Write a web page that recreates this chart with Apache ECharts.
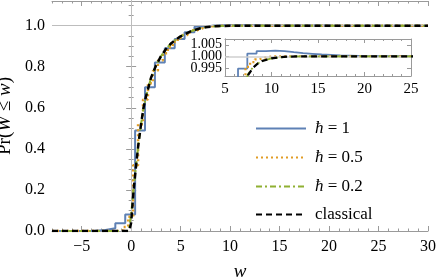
<!DOCTYPE html>
<html><head><meta charset="utf-8">
<script src="https://cdn.jsdelivr.net/npm/echarts@6/dist/echarts.min.js"></script>
<style>html,body{margin:0;padding:0;background:#fff}#c{width:436px;height:280px}</style>
</head><body><div id="c"></div>
<script>
// ---- data ----
const hbar1X = [-8, -4.6, -3.6, -2.6, -1.6, -0.6, 0.4, 1.4, 2.4, 3.4, 4.4, 5.4, 6.4, 7.4, 8.4, 9.4, 10.4, 11.4, 12.4, 13.4, 14.4, 15.4, 16.4, 17.4, 18.4, 19.4, 20.4, 30];
const hbar1Y = [0, 0.001, 0.005, 0.013, 0.038, 0.08, 0.49, 0.70, 0.82, 0.89, 0.935, 0.968, 0.9947, 1.0012, 1.0023, 1.0025, 1.0023, 1.0018, 1.0014, 1.0011, 1.0008, 1.0006, 1.0004, 1.0003, 1.0002, 1.0001, 1.0, 1.0];
const hbar05X = [-8, -1.3, -0.8, -0.3, 0.2, 0.7, 1.2, 1.7, 2.2, 2.7, 3.2, 3.7, 4.2, 4.7, 5.2, 5.7, 6.2, 6.7, 7.2, 7.7, 8.2, 8.7, 9.2, 9.7, 10.2, 30];
const hbar05Y = [0, 0.004, 0.02, 0.07, 0.32, 0.52, 0.64, 0.72, 0.78, 0.83, 0.865, 0.895, 0.92, 0.94, 0.955, 0.968, 0.978, 0.987, 0.9955, 0.9975, 0.9987, 0.9994, 0.9998, 1.0, 1.0, 1.0];
const hbar02X = [-8, -0.4, -0.2, 0, 0.25, 0.5, 0.75, 1, 1.25, 1.5, 2, 2.5, 3, 3.5, 4, 4.5, 5, 5.5, 6, 6.5, 7, 7.5, 8, 8.5, 9, 9.5, 10, 11, 12, 13, 30];
const hbar02Y = [0, 0, 0.02, 0.08, 0.21, 0.32, 0.43, 0.52, 0.6, 0.655, 0.745, 0.805, 0.85, 0.885, 0.912, 0.932, 0.948, 0.961, 0.972, 0.980, 0.987, 0.9925, 0.9952, 0.9969, 0.998, 0.9986, 0.9991, 0.9996, 0.9999, 1.0, 1.0];
const classicalX = [-8, -0.2, 0, 0.25, 0.5, 0.75, 1, 1.25, 1.5, 2, 2.5, 3, 3.5, 4, 4.5, 5, 5.5, 6, 6.5, 7, 7.5, 8, 8.5, 9, 9.5, 10, 11, 12, 13, 30];
const classicalY = [0, 0, 0.04, 0.2, 0.32, 0.43, 0.52, 0.6, 0.655, 0.745, 0.805, 0.85, 0.885, 0.912, 0.932, 0.948, 0.96, 0.972, 0.980, 0.987, 0.992, 0.995, 0.9968, 0.998, 0.9986, 0.9991, 0.9997, 0.9999, 1.0, 1.0];
const xMajorTicks = [-5, 0, 5, 10, 15, 20, 25, 30];
const xMinorTicks = [-8,-7,-6,-5,-4,-3,-2,-1,0,1,2,3,4,5,6,7,8,9,10,11,12,13,14,15,16,17,18,19,20,21,22,23,24,25,26,27,28,29,30];
const yMajorTicks = [0, 0.2, 0.4, 0.6, 0.8, 1.0];
const insetYTicks = [0.995, 1.000, 1.005];
const seriesNames = ['ħ = 1', 'ħ = 0.5', 'ħ = 0.2', 'classical'];

// ---- chart ----
const zip = (xs, ys) => xs.map((x, i) => [x, ys[i]]);
const FONT = '"Liberation Serif", "Times New Roman", serif';
const frame = '#9a9a9a';
const colors = ['#5E81B5', '#E19C24', '#8FB032', '#000000'];
const styles = [
  {width: 2, type: 'solid'},
  {width: 2.5, type: [2, 3]},
  {width: 2, type: [6, 3, 2, 3]},
  {width: 2.5, type: [6, 4]}
];
const datasets = [
  {d: zip(hbar1X, hbar1Y), step: 'end'},
  {d: zip(hbar05X, hbar05Y), step: 'end'},
  {d: zip(hbar02X, hbar02Y), step: false},
  {d: zip(classicalX, classicalY), step: false}
];

const tickLab = {fontFamily: FONT, fontSize: 16, color: '#000'};
const xAxes = [
  {gridIndex: 0, type: 'value', min: -8, max: 30, position: 'bottom',
   axisLine: {show: true, lineStyle: {color: frame}},
   axisTick: {show: true, inside: true, length: 5, lineStyle: {color: frame}, customValues: xMajorTicks},
   axisLabel: {show: true, ...tickLab, margin: 8, customValues: xMajorTicks, formatter: v => (v < 0 ? '\u2212' + Math.abs(v) : '' + v)},
   splitLine: {show: false},
   name: 'w', nameLocation: 'middle', nameGap: 31,
   nameTextStyle: {fontFamily: FONT, fontSize: 19, fontStyle: 'italic', color: '#000'}},
  {gridIndex: 0, type: 'value', min: -8, max: 30, position: 'bottom',
   axisLine: {show: false}, axisLabel: {show: false}, splitLine: {show: false},
   axisTick: {show: true, inside: true, length: 2.5, lineStyle: {color: frame}, customValues: xMinorTicks}},
  {gridIndex: 0, type: 'value', min: -8, max: 30, position: 'top',
   axisLine: {show: true, lineStyle: {color: frame}}, axisLabel: {show: false}, splitLine: {show: false},
   axisTick: {show: true, inside: true, length: 5, lineStyle: {color: frame}, customValues: xMajorTicks}},
  {gridIndex: 0, type: 'value', min: -8, max: 30, position: 'top',
   axisLine: {show: false}, axisLabel: {show: false}, splitLine: {show: false},
   axisTick: {show: true, inside: true, length: 2.5, lineStyle: {color: frame}, customValues: xMinorTicks}},
  {gridIndex: 1, type: 'value', min: 5, max: 25, interval: 5, position: 'bottom',
   axisLine: {show: true, lineStyle: {color: frame}},
   axisTick: {show: true, inside: true, length: 4, lineStyle: {color: frame}},
   minorTick: {show: true, splitNumber: 5, length: 2, lineStyle: {color: frame}},
   axisLabel: {show: true, ...tickLab, fontSize: 15, margin: 6},
   splitLine: {show: false}},
  {gridIndex: 1, type: 'value', min: 5, max: 25, interval: 5, position: 'top',
   axisLine: {show: true, lineStyle: {color: frame}},
   axisTick: {show: true, inside: true, length: 4, lineStyle: {color: frame}},
   minorTick: {show: true, splitNumber: 5, length: 2, lineStyle: {color: frame}},
   axisLabel: {show: false}, splitLine: {show: false}}
];
const insetLabelAxis = vals => ({gridIndex: 1, type: 'value', min: 0.9915, max: 1.0075, position: 'left',
   axisLine: {show: true, lineStyle: {color: frame}},
   axisTick: {show: true, inside: true, length: 4, lineStyle: {color: frame}, customValues: vals},
   axisLabel: {show: true, ...tickLab, fontSize: 14, margin: 3, customValues: vals, formatter: v => v.toFixed(3)},
   splitLine: {show: false}});
const yAxes = [
  {gridIndex: 0, type: 'value', min: 0, max: 1.12, interval: 0.2, position: 'left',
   axisLine: {show: true, lineStyle: {color: frame}},
   axisTick: {show: true, inside: true, length: 5, lineStyle: {color: frame}},
   minorTick: {show: true, splitNumber: 4, length: 2.5, lineStyle: {color: frame}},
   axisLabel: {show: true, ...tickLab, margin: 7, customValues: yMajorTicks, formatter: v => v.toFixed(1)},
   splitLine: {show: false},
   name: '{n|Pr(}{i|W}{n| \u2264 }{i|w}{n|)}', nameLocation: 'middle', nameGap: 30, nameRotate: 90,
   nameTextStyle: {fontFamily: FONT, fontSize: 19, rich: {
     n: {fontFamily: FONT, fontSize: 19, color: '#000'},
     i: {fontFamily: FONT, fontSize: 19, fontStyle: 'italic', color: '#000'}}}},
  {gridIndex: 0, type: 'value', min: 0, max: 1.12, interval: 0.2, position: 'right',
   axisLine: {show: true, lineStyle: {color: frame}},
   axisTick: {show: true, inside: true, length: 5, lineStyle: {color: frame}},
   minorTick: {show: true, splitNumber: 4, length: 2.5, lineStyle: {color: frame}},
   axisLabel: {show: false}, splitLine: {show: false}},
  insetLabelAxis([insetYTicks[0], insetYTicks[2]]),
  insetLabelAxis([insetYTicks[1]]),
  {gridIndex: 1, type: 'value', min: 0.9915, max: 1.0075, position: 'right',
   axisLine: {show: true, lineStyle: {color: frame}},
   axisTick: {show: true, inside: true, length: 4, lineStyle: {color: frame}, customValues: insetYTicks},
   axisLabel: {show: false}, splitLine: {show: false}}
];

const series = [];
series.push({type: 'line', xAxisIndex: 0, yAxisIndex: 0, data: [], silent: true, z: 1,
  markLine: {silent: true, symbol: 'none', label: {show: false}, animation: false,
    lineStyle: {color: '#bdbdbd', width: 1, type: 'solid'},
    data: [{xAxis: 0}, {yAxis: 1}]}});
series.push({type: 'line', xAxisIndex: 4, yAxisIndex: 2, data: [], silent: true, z: 1,
  markLine: {silent: true, symbol: 'none', label: {show: false}, animation: false,
    lineStyle: {color: '#cfcfcf', width: 1.5, type: 'solid'},
    data: [{yAxis: 1}]}});
[0, 1].forEach(g => {
  datasets.forEach((ds, i) => {
    series.push({
      name: seriesNames[i], type: 'line',
      xAxisIndex: g === 0 ? 0 : 4, yAxisIndex: g === 0 ? 0 : 2,
      data: ds.d, step: ds.step, showSymbol: false, symbol: 'none',
      clip: true, animation: false, z: 3 + i,
      lineStyle: {color: colors[i], width: styles[i].width * (g === 1 ? 0.9 : 1), type: styles[i].type},
      itemStyle: {color: colors[i]}
    });
  });
});

const legendTops = [120, 149, 178, 206];
const legends = seriesNames.map((nm, i) => ({
  show: true, orient: 'vertical', left: 255, top: legendTops[i],
  itemWidth: 50, itemHeight: 14, itemGap: 0, padding: 0,
  data: [nm], selectedMode: false,
  itemStyle: {opacity: 0, borderWidth: 0},
  formatter: n => n === 'classical' ? '{n|classical}' : '{i|ħ}{n|' + n.slice(1) + '}',
  textStyle: {fontFamily: FONT, fontSize: 17, color: '#000', padding: [0, 0, 0, 4], rich: {
    n: {fontFamily: FONT, fontSize: 17, color: '#000'},
    i: {fontFamily: FONT, fontSize: 17, fontStyle: 'italic', color: '#000'}}}
}));

const chart = echarts.init(document.getElementById('c'), null, {renderer: 'canvas'});
chart.setOption({
  backgroundColor: '#fff',
  animation: false,
  grid: [
    {left: 52, right: 8, top: 1, bottom: 49, show: false, outerBoundsMode: 'none', containLabel: false},
    {left: 225, top: 39, width: 186, height: 37, show: true, backgroundColor: '#fff', borderColor: frame, borderWidth: 0, outerBoundsMode: 'none', containLabel: false}
  ],
  xAxis: xAxes,
  yAxis: yAxes,
  legend: legends,
  series: series
});
</script></body></html>
